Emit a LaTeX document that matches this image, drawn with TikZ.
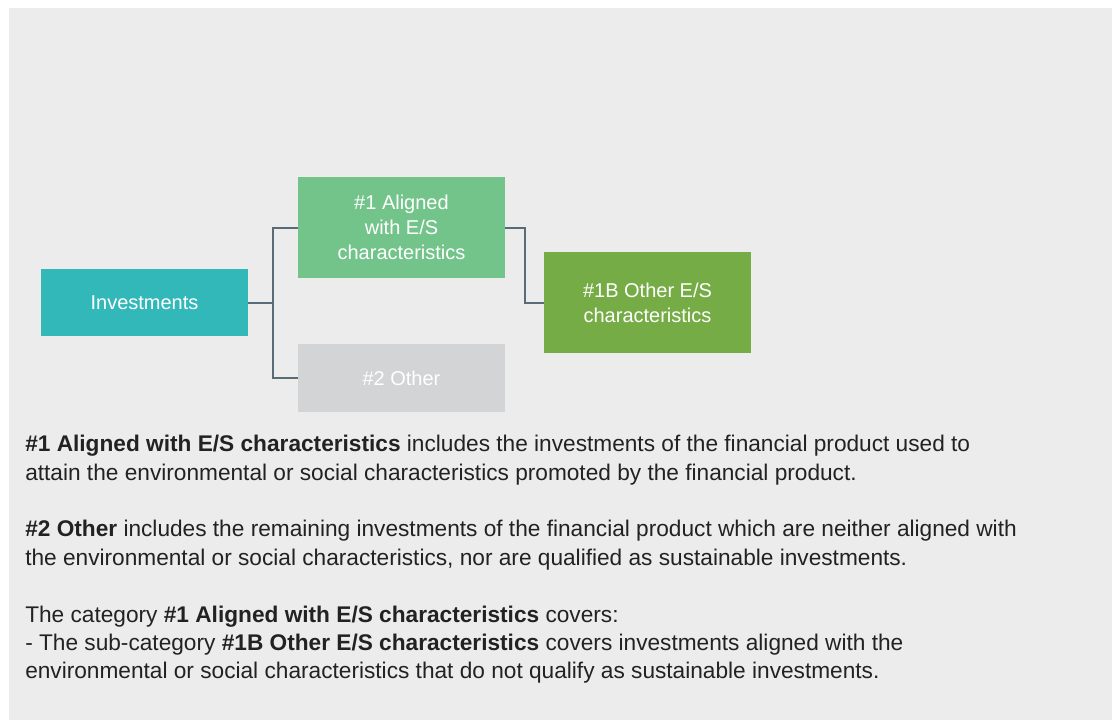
\documentclass[tikz,border=0pt]{standalone}
\usepackage{fontspec}
\setmainfont{Liberation Sans}
\definecolor{pagegray}{HTML}{ECECEC}
\definecolor{invteal}{HTML}{33B8B9}
\definecolor{alignedgreen}{HTML}{73C48A}
\definecolor{othergray}{HTML}{D3D4D6}
\definecolor{esgreen}{HTML}{76AC45}
\definecolor{linkgray}{HTML}{5A6B78}
\definecolor{bodytext}{HTML}{222222}
\begin{document}
\begin{tikzpicture}[x=0.75pt,y=-0.75pt,
    catbox/.style={minimum width=155.25pt,inner sep=0pt,text=white,align=center,
        font=\fontsize{15}{18.75}\selectfont},
    link/.style={draw=linkgray,line width=1.5pt}]
    \useasboundingbox (0,0) rectangle (1112,720);
    \fill[pagegray] (9,8) rectangle (1112,720); % grey panel

    % category boxes
    \node[catbox,fill=invteal,minimum height=50.25pt] (inv) at (144.5,302.5) {Investments};
    \node[catbox,fill=alignedgreen,minimum height=75.75pt] (al) at (401.5,227.5) {\#1 Aligned\\with E/S\\characteristics};
    \node[catbox,fill=othergray,minimum height=51pt] (oth) at (401.5,378) {\#2 Other};
    \node[catbox,fill=esgreen,minimum height=75.75pt] (oes) at (647.5,302.5) {\#1B Other E/S\\characteristics};

    % tree lines
    \draw[link] (inv.east) -- ++(25,0) |- (al.west);
    \draw[link] (inv.east) -- ++(25,0) |- (oth.west);
    \draw[link] (al.east) -- ++(20,0) |- (oes.west);

    % explanation
    \node[anchor=north west,inner sep=0pt,align=left,text=bodytext,
        font=\fontsize{17}{21.3}\selectfont] (notes) at (25,435)
    {\textbf{\#1 Aligned with E/S characteristics} includes the investments of the financial product used to\\
     attain the environmental or social characteristics promoted by the financial product.\\[21.3pt]
     \textbf{\#2 Other} includes the remaining investments of the financial product which are neither aligned with\\
     the environmental or social characteristics, nor are qualified as sustainable investments.\\[21.3pt]
     The category \textbf{\#1 Aligned with E/S characteristics} covers:\\
     - The sub-category \textbf{\#1B Other E/S characteristics} covers investments aligned with the\\
     environmental or social characteristics that do not qualify as sustainable investments.};
\end{tikzpicture}
\end{document}
